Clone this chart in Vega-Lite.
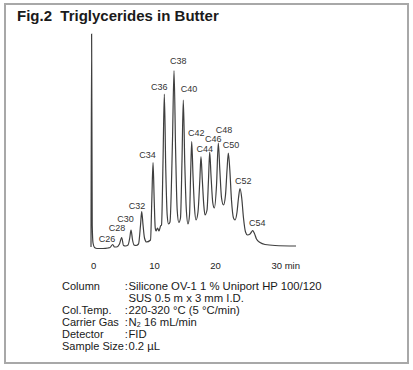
{
  "$schema": "https://vega.github.io/schema/vega-lite/v6.json",
  "width": 403,
  "height": 359,
  "autosize": {"type": "none"},
  "padding": {"left": 5, "top": 4, "right": 5, "bottom": 7},
  "background": "white",
  "config": {"view": {"stroke": "#a8a8a8", "strokeWidth": 2}, "font": "Liberation Sans"},
  "title": {"text": "Fig.2\u00a0 Triglycerides in Butter", "anchor": "start", "frame": "group", "offset": -32, "dx": 12, "fontSize": 15, "fontWeight": "bold", "font": "Liberation Sans", "color": "#1a1a1a", "baseline": "alphabetic"},
  "datasets": {
    "trace": [
      {"t": -0.33, "s": 3}, {"t": -0.23, "s": 216}, {"t": -0.13, "s": 25}, {"t": 0, "s": 7}, {"t": 0.25, "s": 2.5},
      {"t": 0.66, "s": 1.5}, {"t": 1.64, "s": 1.5}, {"t": 2.46, "s": 2}, {"t": 2.79, "s": 2.5}, {"t": 3.23, "s": 5.5},
      {"t": 3.52, "s": 3}, {"t": 3.85, "s": 3}, {"t": 4.34, "s": 6}, {"t": 4.70, "s": 12.5}, {"t": 5.00, "s": 4.5},
      {"t": 5.33, "s": 4}, {"t": 5.74, "s": 5}, {"t": 6.02, "s": 12}, {"t": 6.23, "s": 20}, {"t": 6.48, "s": 10},
      {"t": 6.72, "s": 5}, {"t": 7.05, "s": 4.5}, {"t": 7.46, "s": 6}, {"t": 7.79, "s": 25}, {"t": 7.98, "s": 38.5},
      {"t": 8.20, "s": 25}, {"t": 8.44, "s": 12}, {"t": 8.77, "s": 8}, {"t": 9.43, "s": 10}, {"t": 9.64, "s": 50},
      {"t": 9.84, "s": 87.3}, {"t": 10.03, "s": 50}, {"t": 10.20, "s": 22}, {"t": 10.33, "s": 19}, {"t": 10.57, "s": 22},
      {"t": 10.82, "s": 19}, {"t": 11.07, "s": 24}, {"t": 11.23, "s": 25}, {"t": 11.48, "s": 90}, {"t": 11.69, "s": 156},
      {"t": 11.93, "s": 80}, {"t": 12.16, "s": 35}, {"t": 12.38, "s": 26}, {"t": 12.62, "s": 28}, {"t": 13.03, "s": 110},
      {"t": 13.28, "s": 179.3}, {"t": 13.54, "s": 100}, {"t": 13.80, "s": 40}, {"t": 14.07, "s": 27.5}, {"t": 14.34, "s": 32},
      {"t": 14.59, "s": 90}, {"t": 14.80, "s": 150}, {"t": 15.05, "s": 85}, {"t": 15.30, "s": 40}, {"t": 15.57, "s": 26},
      {"t": 15.82, "s": 35}, {"t": 16.02, "s": 80}, {"t": 16.18, "s": 108.3}, {"t": 16.39, "s": 75}, {"t": 16.64, "s": 42},
      {"t": 16.89, "s": 30}, {"t": 17.21, "s": 38}, {"t": 17.51, "s": 70}, {"t": 17.70, "s": 93.3}, {"t": 17.92, "s": 70},
      {"t": 18.16, "s": 45}, {"t": 18.36, "s": 35}, {"t": 18.69, "s": 40}, {"t": 18.93, "s": 70}, {"t": 19.13, "s": 98},
      {"t": 19.34, "s": 75}, {"t": 19.64, "s": 47}, {"t": 19.89, "s": 42}, {"t": 20.25, "s": 65}, {"t": 20.54, "s": 107},
      {"t": 20.79, "s": 80}, {"t": 21.07, "s": 52}, {"t": 21.39, "s": 45}, {"t": 21.72, "s": 55}, {"t": 21.97, "s": 80},
      {"t": 22.18, "s": 97}, {"t": 22.43, "s": 80}, {"t": 22.70, "s": 50}, {"t": 23.03, "s": 32}, {"t": 23.28, "s": 30},
      {"t": 23.61, "s": 38}, {"t": 23.85, "s": 52}, {"t": 24.10, "s": 61.5}, {"t": 24.38, "s": 52}, {"t": 24.67, "s": 32},
      {"t": 25.00, "s": 18}, {"t": 25.33, "s": 15}, {"t": 25.74, "s": 16}, {"t": 25.98, "s": 18}, {"t": 26.18, "s": 19.3},
      {"t": 26.43, "s": 17}, {"t": 26.80, "s": 11}, {"t": 27.38, "s": 7.5}, {"t": 28.20, "s": 5.5}, {"t": 29.84, "s": 4.5},
      {"t": 33.28, "s": 4}
    ],
    "peaks": [
      {"label": "C26", "t": 2.30, "s": 11.5},
      {"label": "C28", "t": 3.93, "s": 21.7},
      {"label": "C30", "t": 5.33, "s": 31.3},
      {"label": "C32", "t": 7.21, "s": 44},
      {"label": "C34", "t": 8.93, "s": 95},
      {"label": "C36", "t": 10.87, "s": 163.5},
      {"label": "C38", "t": 13.98, "s": 189},
      {"label": "C40", "t": 15.74, "s": 161},
      {"label": "C42", "t": 16.93, "s": 117.3},
      {"label": "C44", "t": 18.31, "s": 101.3},
      {"label": "C46", "t": 19.72, "s": 110.7},
      {"label": "C48", "t": 21.48, "s": 119.7},
      {"label": "C50", "t": 22.62, "s": 104.7},
      {"label": "C52", "t": 24.64, "s": 69.3},
      {"label": "C54", "t": 26.93, "s": 27.3}
    ],
    "conditions": [
      {"name": "Column", "colon": ":", "value": "Silicone OV-1 1 % Uniport HP 100/120", "s": -37},
      {"name": "", "colon": "", "value": "SUS 0.5 m x 3 mm I.D.", "s": -49},
      {"name": "Col.Temp.", "colon": ":", "value": "220-320 °C (5 °C/min)", "s": -61},
      {"name": "Carrier Gas", "colon": ":", "value": "N₂ 16 mL/min", "s": -73},
      {"name": "Detector", "colon": ":", "value": "FID", "s": -85},
      {"name": "Sample Size", "colon": ":", "value": "0.2 µL", "s": -97}
    ]
  },
  "layer": [
    {
      "data": {"name": "trace"},
      "mark": {"type": "line", "color": "#3f3f3f", "strokeWidth": 1.2, "interpolate": "monotone"},
      "encoding": {
        "x": {"field": "t", "type": "quantitative",
          "scale": {"domain": [-14.43, 51.64], "nice": false, "zero": false},
          "axis": {"values": [0, 10, 20, 30], "domain": false, "ticks": false, "grid": false, "title": null,
            "labelPadding": 0, "offset": -103, "labelFontSize": 9.5, "labelColor": "#222", "labelFont": "Liberation Sans",
            "labelFlush": false, "labelOverlap": false,
            "labelExpr": "datum.value == 30 ? '30 min' : datum.label",
            "labelAlign": {"condition": {"test": "datum.value == 30", "value": "left"}, "value": "center"},
            "labelOffset": {"condition": {"test": "datum.value == 30", "value": -5}, "value": 0}}},
        "y": {"field": "s", "type": "quantitative", "scale": {"domain": [-113, 246], "nice": false, "zero": false}, "axis": null}
      }
    },
    {
      "data": {"name": "peaks"},
      "mark": {"type": "text", "fontSize": 9, "color": "#333", "baseline": "middle", "align": "center"},
      "encoding": {
        "x": {"field": "t", "type": "quantitative"},
        "y": {"field": "s", "type": "quantitative"},
        "text": {"field": "label"}
      }
    },
    {
      "data": {"name": "conditions"},
      "mark": {"type": "text", "fontSize": 11, "color": "#1a1a1a", "baseline": "middle", "align": "left"},
      "encoding": {
        "x": {"datum": -5.08, "type": "quantitative"},
        "y": {"field": "s", "type": "quantitative"},
        "text": {"field": "name"}
      }
    },
    {
      "data": {"name": "conditions"},
      "mark": {"type": "text", "fontSize": 11, "color": "#1a1a1a", "baseline": "middle", "align": "left"},
      "encoding": {
        "x": {"datum": 5.2, "type": "quantitative"},
        "y": {"field": "s", "type": "quantitative"},
        "text": {"field": "colon"}
      }
    },
    {
      "data": {"name": "conditions"},
      "mark": {"type": "text", "fontSize": 11.3, "color": "#1a1a1a", "baseline": "middle", "align": "left"},
      "encoding": {
        "x": {"datum": 5.8, "type": "quantitative"},
        "y": {"field": "s", "type": "quantitative"},
        "text": {"field": "value"}
      }
    }
  ]
}
